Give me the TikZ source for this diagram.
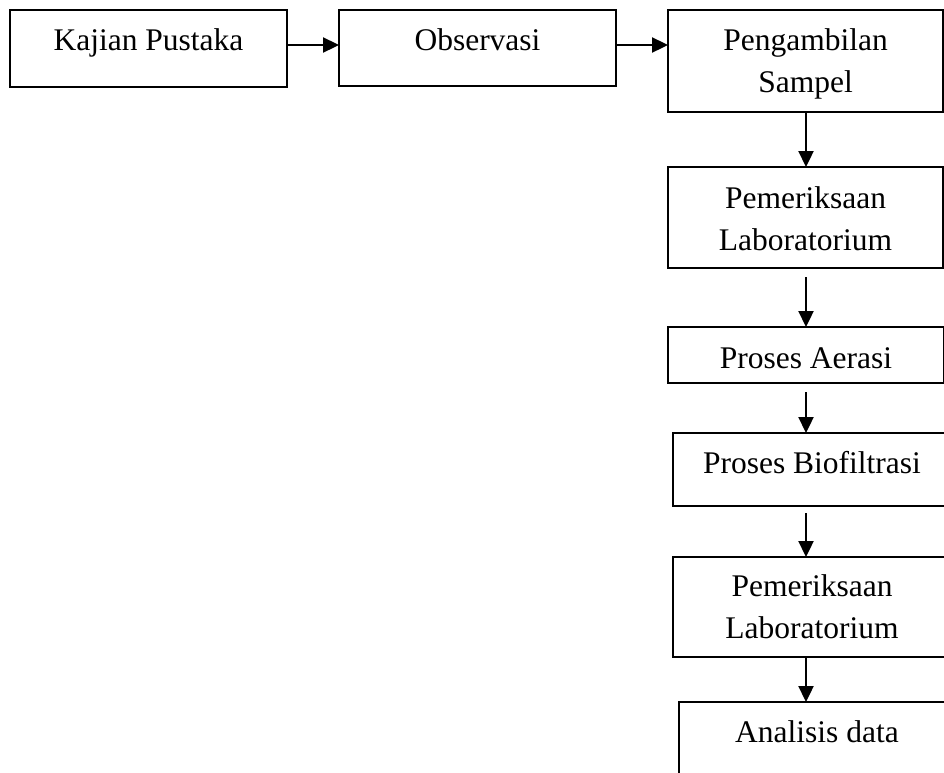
\documentclass[tikz,border=0pt]{standalone}
\usepackage{fontspec}
\setmainfont{Liberation Serif}
\usetikzlibrary{arrows.meta}
\begin{document}
\begin{tikzpicture}[x=1pt,y=-1pt,
  box/.style={draw=black, line width=2.8pt, rectangle, anchor=north west, inner sep=0pt, outer sep=0pt},
  txt/.style={font=\fontsize{31.5}{42}\selectfont, anchor=base, inner sep=0pt, align=center},
  arr/.style={line width=2.3pt, -{Triangle[length=16pt,width=15pt]}}]
\useasboundingbox (0,0) rectangle (944,772);
\clip (0,0) rectangle (944,772);
\fill[white] (0,0) rectangle (944,772);
% boxes
\node[box, minimum width=277pt, minimum height=77pt] (b1) at (10,10) {};
\node[box, minimum width=277pt, minimum height=76pt] (b2) at (339,10) {};
\node[box, minimum width=275pt, minimum height=102pt] (b3) at (668,10) {};
\node[box, minimum width=275pt, minimum height=101pt] (b4) at (668,167) {};
\node[box, minimum width=276pt, minimum height=56pt] (b5) at (668,327) {};
\node[box, minimum width=278pt, minimum height=73pt] (b6) at (673,433) {};
\node[box, minimum width=278pt, minimum height=100pt] (b7) at (673,557) {};
\node[box, minimum width=276pt, minimum height=120pt] (b8) at (679,702) {};
% texts (base = baseline of last line)
\node[txt] (t1) at ([yshift=-40pt]b1.north) {Kajian Pustaka};
\node[txt] (t2) at ([yshift=-40pt]b2.north) {Observasi};
\node[txt] (t3) at ([yshift=-82pt]b3.north) {Pengambilan\\Sampel};
\node[txt] (t4) at ([yshift=-83pt]b4.north) {Pemeriksaan\\Laboratorium};
\node[txt] (t5) at ([yshift=-41pt]b5.north) {Proses Aerasi};
\node[txt] (t6) at ([yshift=-40pt]b6.north) {Proses Biofiltrasi};
\node[txt] (t7) at ([yshift=-81pt]b7.north) {Pemeriksaan\\Laboratorium};
\node[txt] (t8) at ([yshift=-40pt]b8.north) {Analisis data};
% arrows
\coordinate (hy) at (0,45);
\coordinate (ax) at (806,0);
\draw[arr] (b1.east |- hy) -- (b2.west |- hy);
\draw[arr] (b2.east |- hy) -- (b3.west |- hy);
\draw[arr] (b3.south -| ax) -- (b4.north -| ax);
\draw[arr, shorten <=9pt] (b4.south -| ax) -- (b5.north -| ax);
\draw[arr, shorten <=9pt] (b5.south -| ax) -- (b6.north -| ax);
\draw[arr, shorten <=7pt] (b6.south -| ax) -- (b7.north -| ax);
\draw[arr] (b7.south -| ax) -- (b8.north -| ax);
\end{tikzpicture}
\end{document}
